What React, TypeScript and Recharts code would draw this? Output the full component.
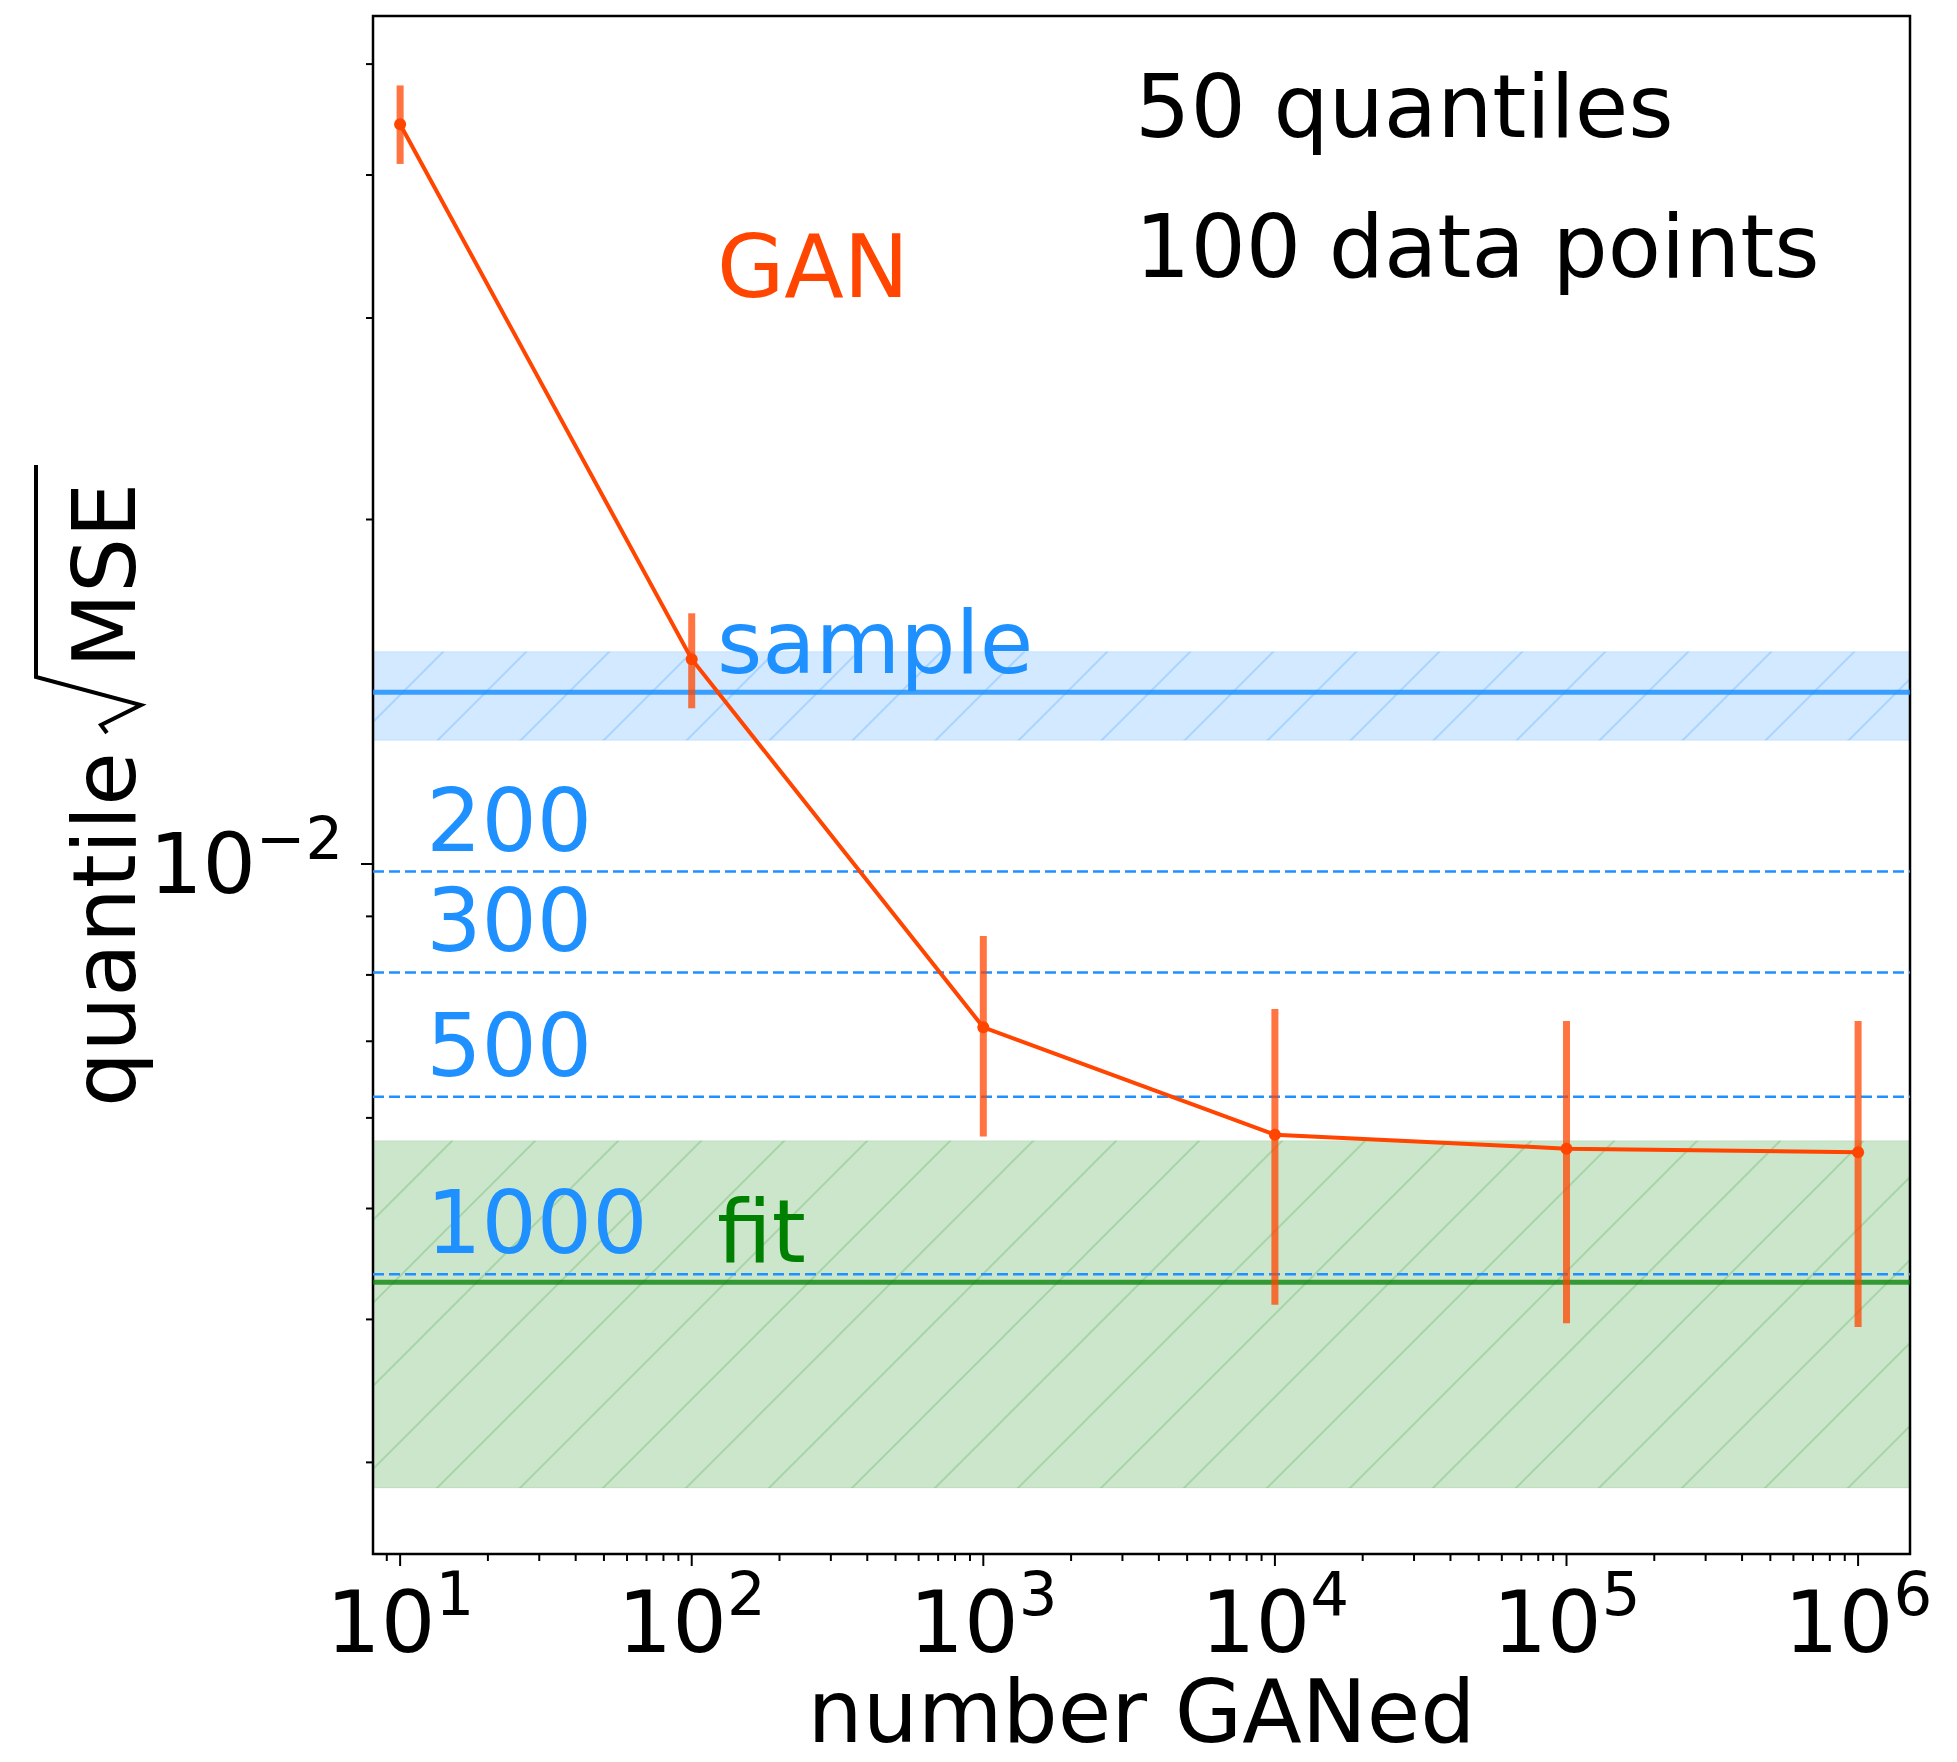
import {
  ComposedChart,
  Line,
  ErrorBar,
  XAxis,
  YAxis,
  ReferenceArea,
  ReferenceLine,
  ReferenceDot,
} from 'recharts'

const FONT = '"DejaVu Sans", "Liberation Sans", sans-serif'

// GAN runs: quantile sqrt(MSE) vs number of GANed events
const ganedCounts = [10, 100, 1000, 10000, 100000, 1000000]
const ganRmse = [0.0443, 0.0151, 0.0072, 0.0058, 0.00564, 0.0056]
const ganErrLow = [0.0034, 0.00142, 0.00142, 0.00168, 0.00167, 0.00166]
const ganErrHigh = [0.0036, 0.00146, 0.00145, 0.00167, 0.00165, 0.00169]

// reference levels
const sampleRmse = 0.01413
const sampleBand = [0.01283, 0.01533]
const fitRmse = 0.00431
const fitBand = [0.00285, 0.00573]
const sampleSizes = ['200', '300', '500', '1000']
const sampleSizeRmse = [0.00985, 0.00804, 0.00626, 0.00438]

// axes
const xDomain = [8.072, 1.5066e6]
const yDomain = [0.002495, 0.05508]
const xMajorTicks = [10, 100, 1000, 10000, 100000, 1000000]
const xMinorTicks = [
  9, 20, 30, 40, 50, 60, 70, 80, 90, 200, 300, 400, 500, 600, 700, 800, 900,
  2000, 3000, 4000, 5000, 6000, 7000, 8000, 9000, 20000, 30000, 40000, 50000,
  60000, 70000, 80000, 90000, 200000, 300000, 400000, 500000, 600000, 700000,
  800000, 900000,
]
const yMajorTicks = [0.01]
const yMinorTicks = [0.003, 0.004, 0.005, 0.006, 0.007, 0.008, 0.009, 0.02, 0.03, 0.04, 0.05]

const ganRows = ganedCounts.map((x, i) => ({
  x,
  y: ganRmse[i],
  err: [ganErrLow[i], ganErrHigh[i]],
}))

// layout (chart reaches the bottom edge of the window)
const W = 1941
const H = 1754
const PLOT_LEFT = 365
const PLOT_TOP = 8
const PLOT_W = 1537
const PLOT_H = 1538

const ORANGE = '#FF4500'
const BLUE = '#1E90FF'
const GREEN = '#008000'
const TEXT_SIZE = 87

function XTick(props: any) {
  const { x, y, payload } = props
  const v = payload.value
  const major = xMajorTicks.includes(v)
  return (
    <g>
      <line x1={x} x2={x} y1={y} y2={y + (major ? 12 : 7)} stroke="#000" strokeWidth={2} />
      {major && (
        <text x={x} y={y + 98} textAnchor="middle" fontSize={86} fontFamily={FONT} fill="#000">
          10
          <tspan dy={-37} fontSize={61}>
            {Math.round(Math.log10(v))}
          </tspan>
        </text>
      )}
    </g>
  )
}

function YTick(props: any) {
  const { x, y, payload } = props
  const v = payload.value
  const major = yMajorTicks.includes(v)
  return (
    <g>
      <line x1={x - (major ? 12 : 7)} x2={x} y1={y} y2={y} stroke="#000" strokeWidth={2} />
      {major && (
        <text x={x - 30} y={y + 29} textAnchor="end" fontSize={84} fontFamily={FONT} fill="#000">
          10
          <tspan dy={-34} fontSize={59}>
            {'\u2212' + Math.abs(Math.round(Math.log10(v)))}
          </tspan>
        </text>
      )}
    </g>
  )
}

function XLabel() {
  return (
    <text
      x={PLOT_LEFT + PLOT_W / 2}
      y={PLOT_TOP + PLOT_H + 188}
      textAnchor="middle"
      fontSize={TEXT_SIZE}
      fontFamily={FONT}
      fill="#000"
    >
      number GANed
    </text>
  )
}

function YLabel() {
  // rotated: local x runs up the page, local y=0 is the text baseline
  return (
    <g transform={`translate(127, ${PLOT_TOP + PLOT_H / 2}) rotate(-90)`}>
      <text x={-322} y={0} fontSize={TEXT_SIZE} fontFamily={FONT} fill="#000">
        quantile
      </text>
      <path
        d="M52,-28 L60,-34 L80,6 L108,-99 L320,-99"
        fill="none"
        stroke="#000"
        strokeWidth={4}
        strokeLinejoin="miter"
      />
      <text x={117} y={0} fontSize={TEXT_SIZE} fontFamily={FONT} fill="#000">
        MSE
      </text>
    </g>
  )
}

const note = (label: string, color: string, dy: number) => (p: any) => (
  <text x={p.cx} y={p.cy + dy} fontSize={TEXT_SIZE} fontFamily={FONT} fill={color}>
    {label}
  </text>
)

const HATCH = 'M0,83 L83,0 M-20,20 L20,-20 M63,103 L103,63'

export default function App() {
  return (
    <div style={{ width: W, height: H, marginBottom: -8 }}>
      <ComposedChart
        width={W}
        height={H}
        data={ganRows}
        margin={{ top: PLOT_TOP, right: W - PLOT_LEFT - PLOT_W, bottom: 0, left: 0 }}
      >
        <defs>
          <pattern id="hatchBlue" patternUnits="userSpaceOnUse" width={83} height={83}>
            <path d={HATCH} stroke={BLUE} strokeOpacity={0.45} strokeWidth={2} />
          </pattern>
          <pattern id="hatchGreen" patternUnits="userSpaceOnUse" width={83} height={83}>
            <path d={HATCH} stroke={GREEN} strokeOpacity={0.35} strokeWidth={2} />
          </pattern>
        </defs>
        <XAxis
          dataKey="x"
          type="number"
          scale="log"
          domain={xDomain}
          allowDataOverflow
          ticks={[...xMajorTicks, ...xMinorTicks]}
          interval={0}
          tick={<XTick />}
          tickLine={false}
          tickSize={0}
          tickMargin={0}
          axisLine={false}
          height={H - PLOT_TOP - PLOT_H}
          label={XLabel}
        />
        <YAxis
          type="number"
          scale="log"
          domain={yDomain}
          allowDataOverflow
          ticks={[...yMajorTicks, ...yMinorTicks]}
          interval={0}
          tick={<YTick />}
          tickLine={false}
          tickSize={0}
          tickMargin={0}
          axisLine={false}
          width={PLOT_LEFT}
          label={YLabel}
        />

        <ReferenceArea
          x1={xDomain[0]}
          x2={xDomain[1]}
          y1={sampleBand[0]}
          y2={sampleBand[1]}
          fill={BLUE}
          fillOpacity={0.2}
          stroke={BLUE}
          strokeOpacity={0.15}
          ifOverflow="visible"
        />
        <ReferenceArea
          x1={xDomain[0]}
          x2={xDomain[1]}
          y1={sampleBand[0]}
          y2={sampleBand[1]}
          fill="url(#hatchBlue)"
          stroke="none"
          ifOverflow="visible"
        />
        <ReferenceArea
          x1={xDomain[0]}
          x2={xDomain[1]}
          y1={fitBand[0]}
          y2={fitBand[1]}
          fill={GREEN}
          fillOpacity={0.2}
          stroke={GREEN}
          strokeOpacity={0.1}
          ifOverflow="visible"
        />
        <ReferenceArea
          x1={xDomain[0]}
          x2={xDomain[1]}
          y1={fitBand[0]}
          y2={fitBand[1]}
          fill="url(#hatchGreen)"
          stroke="none"
          ifOverflow="visible"
        />

        {sampleSizeRmse.map((v, i) => (
          <ReferenceLine
            key={sampleSizes[i]}
            y={v}
            stroke={BLUE}
            strokeWidth={2.5}
            strokeDasharray="11 5"
            ifOverflow="visible"
          />
        ))}
        <ReferenceLine y={sampleRmse} stroke={BLUE} strokeOpacity={0.85} strokeWidth={5} ifOverflow="visible" />
        <ReferenceLine y={fitRmse} stroke={GREEN} strokeOpacity={0.75} strokeWidth={5} ifOverflow="visible" />

        <Line
          dataKey="y"
          type="linear"
          stroke={ORANGE}
          strokeWidth={4}
          dot={{ r: 6, fill: ORANGE, stroke: 'none' }}
          isAnimationActive={false}
        >
          <ErrorBar
            dataKey="err"
            direction="y"
            width={0}
            stroke={ORANGE}
            strokeOpacity={0.75}
            strokeWidth={7}
            isAnimationActive={false}
          />
        </Line>

        {sampleSizeRmse.map((v, i) => (
          <ReferenceDot
            key={'lbl' + sampleSizes[i]}
            x={12.28}
            y={v}
            r={0}
            ifOverflow="visible"
            shape={note(sampleSizes[i], BLUE, -21)}
          />
        ))}
        <ReferenceDot x={122} y={sampleRmse} r={0} ifOverflow="visible" shape={note('sample', BLUE, -19)} />
        <ReferenceDot x={122} y={fitRmse} r={0} ifOverflow="visible" shape={note('fit', GREEN, -20)} />
        <ReferenceDot x={122} y={0.0313} r={0} ifOverflow="visible" shape={note('GAN', ORANGE, 0)} />
        <ReferenceDot x={3316} y={0.0432} r={0} ifOverflow="visible" shape={note('50 quantiles', '#000', 0)} />
        <ReferenceDot x={3316} y={0.0326} r={0} ifOverflow="visible" shape={note('100 data points', '#000', 0)} />

        <ReferenceArea
          x1={xDomain[0]}
          x2={xDomain[1]}
          y1={yDomain[0]}
          y2={yDomain[1]}
          fill="none"
          stroke="#000"
          strokeWidth={2.5}
          ifOverflow="visible"
        />
      </ComposedChart>
    </div>
  )
}
